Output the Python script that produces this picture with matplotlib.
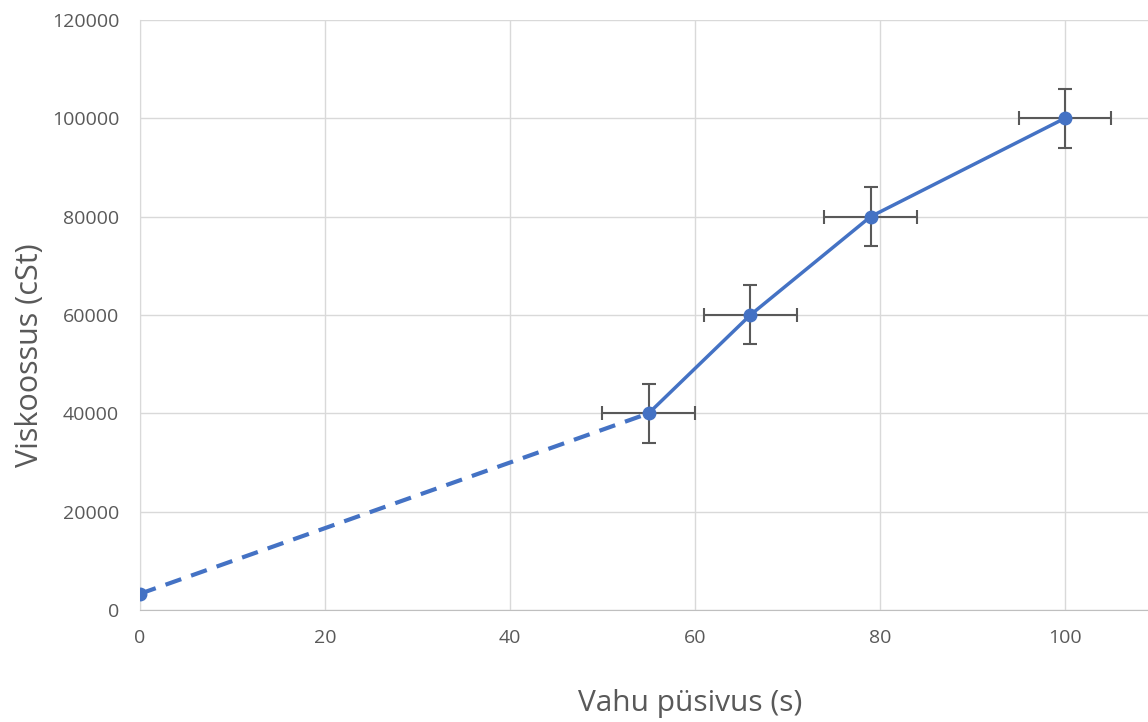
import matplotlib.pyplot as plt

# measured points
x_vals = [55, 66, 79, 100]
y_vals = [40000, 60000, 80000, 100000]
x_err = [5, 5, 5, 5]
y_err = [6000, 6000, 6000, 6000]

# extrapolated segment
x_extra = [0, 55]
y_extra = [3300, 40000]

x_ticks = [0, 20, 40, 60, 80, 100]
y_ticks = [0, 20000, 40000, 60000, 80000, 100000, 120000]

plt.rcParams['font.family'] = ['Open Sans', 'DejaVu Sans']

fig = plt.figure(figsize=(11.48, 7.22), dpi=100)
ax = fig.add_axes([140 / 1148, 112 / 722, 1008 / 1148, 590 / 722])

blue = '#4472C4'
ax.plot(x_extra, y_extra, color=blue, lw=3, ls=(0, (4, 2.5)), zorder=3)
ax.plot(x_extra[:1], y_extra[:1], 'o', color=blue, ms=9, zorder=4)
ax.errorbar(x_vals, y_vals, xerr=x_err, yerr=y_err, fmt='none',
            ecolor='#595959', elinewidth=1.5, capsize=5, capthick=1.5, zorder=2)
ax.plot(x_vals, y_vals, '-o', color=blue, lw=2.5, ms=9, zorder=4)

ax.set_xlim(0, 109)
ax.set_ylim(0, 120000)
ax.set_xticks(x_ticks)
ax.set_yticks(y_ticks)
ax.grid(True, color='#d9d9d9', lw=1)
ax.set_axisbelow(True)
for s in ['top', 'right']:
    ax.spines[s].set_visible(False)
ax.spines['left'].set_color('#d9d9d9')
ax.spines['bottom'].set_color('#bfbfbf')
ax.tick_params(length=0, labelsize=14, labelcolor='#595959')
ax.tick_params(axis='x', pad=14)
ax.tick_params(axis='y', pad=15)

ax.set_xlabel('Vahu püsivus (s)', fontsize=21.5, color='#595959', va='center')
ax.set_ylabel('Viskoossus (cSt)', fontsize=22, color='#595959', va='center')
ax.xaxis.set_label_coords(0.546, -0.158)
ax.yaxis.set_label_coords(-0.109, 0.432)

fig.savefig('out.png', dpi=100)
